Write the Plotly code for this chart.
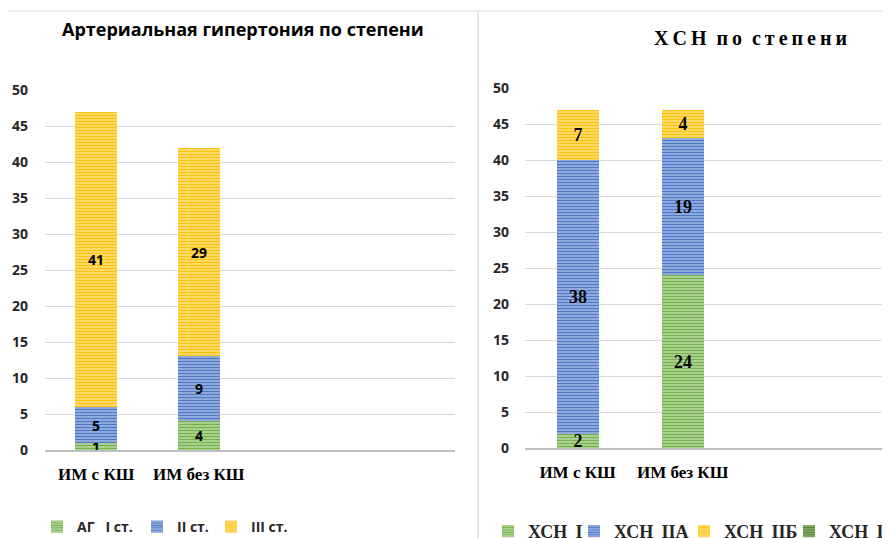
import plotly.graph_objects as go

W, H = 890, 538
OFF = 8  # page body margin offset

categories = ["ИМ с КШ", "ИМ без КШ"]

ag_names = ["АГ\u00a0\u00a0\u00a0I ст.", "II ст.", "III ст."]
ag_stage1 = [1, 4]
ag_stage2 = [5, 9]
ag_stage3 = [41, 29]

hf_names = ["ХСН\u00a0\u2009I", "ХСН\u00a0\u2009IIА", "ХСН\u00a0\u2009IIБ", "ХСН\u00a0\u2009III"]
hf_I = [2, 24]
hf_IIA = [38, 19]
hf_IIB = [7, 4]
hf_III = [0, 0]

y_ticks = [0, 5, 10, 15, 20, 25, 30, 35, 40, 45, 50]

GREEN = ("#A9D18E", "#70AD47")
BLUE = ("#8FAADC", "#4472C4")
YELLOW = ("#FFD966", "#FFC000")
DGREEN = ("#7FA860", "#548235")

SANS = "Open Sans"
SERIF = "Liberation Serif"


def px(x):
    return (x - OFF) / W


def py(y):
    return 1 - (y - OFF) / H


def labels(vals):
    return [str(v) if v else "" for v in vals]


def bar(name, vals, colors, xa, ya, legend, font, width):
    bg, fg = colors
    return go.Bar(
        x=categories, y=vals, name=name, xaxis=xa, yaxis=ya, legend=legend,
        width=width,
        text=labels(vals), textposition="inside", insidetextanchor="middle",
        constraintext="none", textangle=0,
        textfont=font,
        marker=dict(color=bg, line=dict(width=0),
                    pattern=dict(shape="-", fgcolor=fg, bgcolor=bg, size=3,
                                 solidity=0.3, fillmode="replace")),
        hoverinfo="skip",
    )


fig = go.Figure()

lf = dict(family=SANS, size=14, color="#000000", weight="bold")
rf = dict(family=SERIF, size=18, color="#000000", weight="bold")

fig.add_trace(bar(ag_names[0], ag_stage1, GREEN, "x", "y", "legend", lf, 0.41))
fig.add_trace(bar(ag_names[1], ag_stage2, BLUE, "x", "y", "legend2", lf, 0.41))
fig.add_trace(bar(ag_names[2], ag_stage3, YELLOW, "x", "y", "legend3", lf, 0.41))

fig.add_trace(bar(hf_names[0], hf_I, GREEN, "x2", "y2", "legend4", rf, 0.4))
fig.add_trace(bar(hf_names[1], hf_IIA, BLUE, "x2", "y2", "legend5", rf, 0.4))
fig.add_trace(bar(hf_names[2], hf_IIB, YELLOW, "x2", "y2", "legend6", rf, 0.4))
fig.add_trace(bar(hf_names[3], hf_III, DGREEN, "x2", "y2", "legend7", rf, 0.4))

xcommon = dict(type="category", showgrid=False, zeroline=False, showline=True,
               linecolor="#BFBFBF", linewidth=2, ticks="",
               tickfont=dict(family=SERIF, size=17, color="#000000", weight="bold"),
               ticklabelstandoff=8, fixedrange=True, automargin=False)
ycommon = dict(range=[0, 50], tickvals=y_ticks, showgrid=True, gridcolor="#D9D9D9",
               gridwidth=1, zeroline=False, showline=False, ticks="",
               tickfont=dict(family=SANS, size=14, color="#262626", weight="bold"),
               fixedrange=True, automargin=False)

left_legend_font = dict(family=SANS, size=14, color="#262626", weight="bold")
right_legend_font = dict(family=SERIF, size=18, color="#262626", weight="bold")


def leg(xpix, ypix, font):
    return dict(orientation="h", x=px(xpix), xanchor="left", y=py(ypix), yanchor="top",
                font=font, bgcolor="rgba(0,0,0,0)", itemclick=False,
                itemdoubleclick=False)


fig.update_layout(
    width=W, height=H,
    margin=dict(l=0, r=0, t=0, b=0, autoexpand=False),
    paper_bgcolor="white", plot_bgcolor="white",
    barmode="stack", bargap=0,
    showlegend=True,
    xaxis=dict(domain=[px(45), px(455)], range=[-0.5, 3.5], anchor="y", **xcommon),
    yaxis=dict(domain=[py(450), py(90)], anchor="x", ticklabelstandoff=16, **ycommon),
    xaxis2=dict(domain=[px(525), px(898)], range=[-0.5, 3.05], anchor="y2", **xcommon),
    yaxis2=dict(domain=[py(448), py(88)], anchor="x2", ticklabelstandoff=15, **ycommon),
    legend=leg(37, 511, left_legend_font),
    legend2=leg(137, 511, left_legend_font),
    legend3=leg(211, 511, left_legend_font),
    legend4=leg(488, 513, right_legend_font),
    legend5=leg(574, 513, right_legend_font),
    legend6=leg(684, 513, right_legend_font),
    legend7=leg(789, 513, right_legend_font),
    annotations=[
        dict(text="Артериальная гипертония по степени", xref="paper", yref="paper",
             x=px(243), y=py(29), xanchor="center", yanchor="middle", showarrow=False,
             font=dict(family=SANS, size=18, color="#000000", weight="bold")),
        dict(text="Х\u2009С\u2009Н  п\u2009о  с\u2009т\u2009е\u2009п\u2009е\u2009н\u2009и",
             xref="paper", yref="paper",
             x=px(750), y=py(38), xanchor="center", yanchor="middle", showarrow=False,
             font=dict(family=SERIF, size=20, color="#000000", weight="bold")),
    ],
    shapes=[
        dict(type="line", xref="paper", yref="paper", x0=px(7), x1=1.0, y0=py(11), y1=py(11),
             line=dict(color="#D9D9D9", width=1)),
        dict(type="line", xref="paper", yref="paper", x0=px(7.5), x1=px(7.5), y0=py(11), y1=0,
             line=dict(color="#D9D9D9", width=1)),
        dict(type="line", xref="paper", yref="paper", x0=px(478), x1=px(478), y0=py(11), y1=0,
             line=dict(color="#E6E6E6", width=2)),
    ],
)

fig.write_html("out.html")
